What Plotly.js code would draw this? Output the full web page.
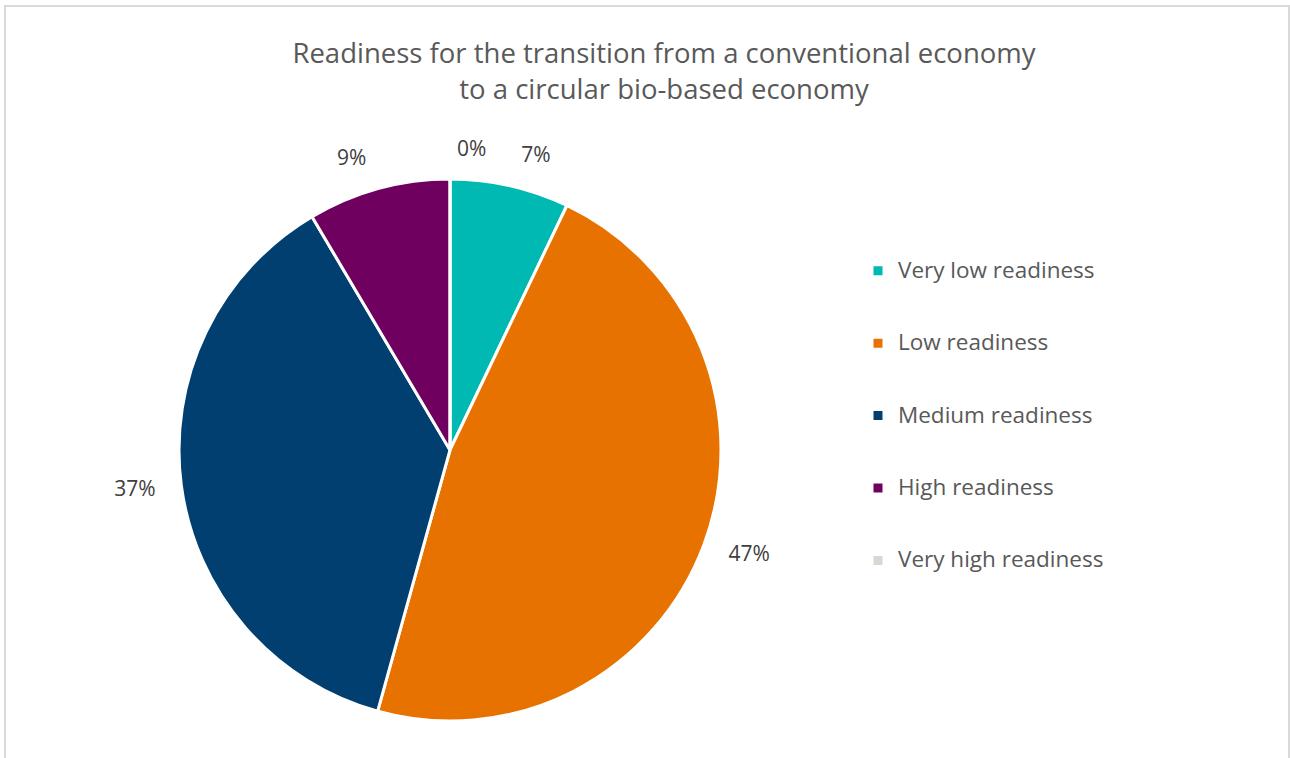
<!DOCTYPE html>
<html>
<head>
<meta charset="utf-8">
<script src="https://cdn.plot.ly/plotly-3.0.1.min.js"></script>
<style>
  html, body { margin: 0; padding: 0; background: #ffffff; }
  #wrap { position: relative; width: 1290px; height: 758px; overflow: hidden; }
  #chart { width: 1290px; height: 758px; }
  #frame { position: absolute; left: 4px; top: 5px; width: 1282px; height: 800px;
           border-left: 2px solid #d9d9d9; border-top: 2px solid #d9d9d9; border-right: 2px solid #d9d9d9;
           pointer-events: none; }
  #chart path.textline { display: none; }
</style>
</head>
<body>
<div id="wrap">
  <div id="chart"></div>
  <div id="frame"></div>
</div>
<script>
// Data
const categories = ["Very low readiness", "Low readiness", "Medium readiness", "High readiness", "Very high readiness"];
const shares = [7.1, 47.2, 37.2, 8.5, 0];
const sliceColors = ["#00B9B2", "#E87200", "#003F70", "#700060", "#D9D8D0"];
const chartTitle = "Readiness for the transition from a conventional economy<br>to a circular bio-based economy";

// Legend labels padded with blank lines to reproduce the wide legend spacing
const legendLabels = categories.map(c => "\u00a0<br><span style=\"font-size:22.5px\">" + c + "</span><br>\u00a0");

const W = 1290, H = 758;
const cx = 450, cy = 450, R = 271;     // visible pie
const RL = 290;                         // radius used to place the outside percentage labels
const RZ = 288;                         // radius used for the label of the empty slice

function dom(r) {
  return { x: [(cx - r) / W, (cx + r) / W], y: [(H - cy - r) / H, (H - cy + r) / H] };
}

const pieTrace = {
  type: "pie",
  labels: legendLabels,
  values: shares,
  sort: false,
  direction: "clockwise",
  rotation: 0,
  marker: { colors: sliceColors, line: { color: "#ffffff", width: 3 } },
  textinfo: "none",
  hovertemplate: "%{customdata}: %{value}%<extra></extra>",
  customdata: categories,
  domain: dom(R),
  showlegend: true
};

// Same data, transparent, slightly larger: only carries the outside percentage labels
function labelPie(r, positions) {
  return {
    type: "pie",
    labels: legendLabels,
    values: shares,
    sort: false,
    direction: "clockwise",
    rotation: 0,
    marker: { colors: sliceColors.map(() => "rgba(0,0,0,0)"), line: { width: 0 } },
    textinfo: "percent",
    texttemplate: "%{percent:.0%}",
    textposition: positions,
    outsidetextfont: { family: "Open Sans, sans-serif", size: 21, color: "#404040" },
    hoverinfo: "skip",
    domain: dom(r),
    showlegend: false
  };
}

const mainLabels = labelPie(RL, shares.map(v => v > 0 ? "outside" : "none"));
const zeroLabels = labelPie(RZ, shares.map(v => v > 0 ? "none" : "outside"));

const layout = {
  width: W, height: H,
  margin: { l: 0, r: 0, t: 0, b: 0 },
  paper_bgcolor: "#ffffff",
  title: {
    text: chartTitle,
    font: { family: "Open Sans, sans-serif", size: 27.5, color: "#595959" },
    x: 664 / W, xanchor: "center",
    y: 1 - 63 / H, yanchor: "middle",
    xref: "container", yref: "container"
  },
  legend: {
    x: 858 / W, xanchor: "left",
    y: 1 - 416 / H, yanchor: "middle",
    font: { family: "Open Sans, sans-serif", size: 17.8, color: "#595959" },
    valign: "middle",
    bgcolor: "rgba(0,0,0,0)"
  },
  showlegend: true
};

Plotly.newPlot("chart", [mainLabels, zeroLabels, pieTrace], layout, { displayModeBar: false });
</script>
</body>
</html>
